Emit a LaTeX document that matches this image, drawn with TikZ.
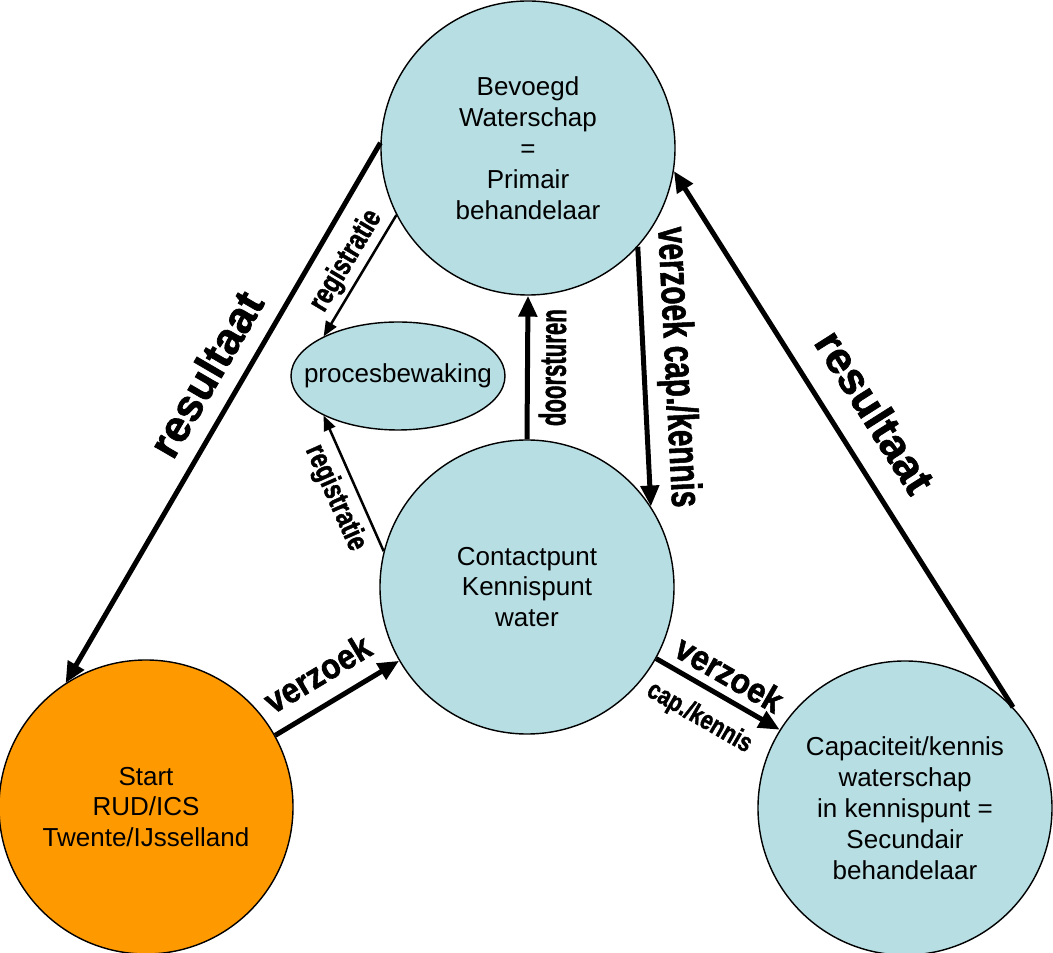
\documentclass[tikz,border=0pt]{standalone}
\usepackage{fontspec}
\setmainfont{Liberation Sans}
\newfontfamily\labfont[FakeBold=1.6]{Liberation Sans Bold}
\usetikzlibrary{arrows.meta,shapes.geometric}

\definecolor{lichtblauw}{RGB}{183,222,227}
\definecolor{oranje}{RGB}{255,153,0}
\newcommand{\smal}[2]{\scalebox{#1}[1]{#2}}

\tikzset{
	bol/.style={circle, draw, line width=0.8pt, fill=lichtblauw, minimum size=58.8mm, inner sep=0pt, align=center, font=\fontsize{14.8}{17.6}\selectfont},
	pijl/.style={line width=1mm, -{Triangle[length=4.2mm,width=3.6mm]}},
	dunpijl/.style={line width=0.5mm, -{Triangle[length=3mm,width=2.4mm]}},
	lab/.style={sloped, inner sep=0pt}
}

\begin{document}
\begin{tikzpicture}[x=0.2mm, y=-0.2mm]
			\useasboundingbox (0,0) rectangle (1053,953);
			%%
			\node[bol] (bev) at (528,148) {Bevoegd\\Waterschap\\=\\Primair\\behandelaar};
			\node[bol] (cp) at (527,587) {Contactpunt\\Kennispunt\\water};
			\node[bol, fill=oranje] (start) at (146,807) {Start\\RUD/ICS\\Twente/IJsselland};
			\node[bol] (sec) at (905,808) {Capaciteit/kennis\\waterschap\\in kennispunt =\\Secundair\\behandelaar};
			\node[ellipse, draw, line width=0.8pt, fill=lichtblauw, minimum width=42.8mm, minimum height=21.6mm, font=\fontsize{14.8}{17.6}\selectfont] (proc) at (398,376) {\makebox[0pt]{procesbewaking}};
			%%
			\draw[pijl] (bev.178) -- (start.123)node[lab, pos=0.46, above=3.2mm, font=\labfont\fontsize{25}{26}\selectfont]{resultaat};
			\draw[pijl] (sec.43) -- (bev.-9)node[lab, pos=0.51, above=4.6mm, font=\labfont\fontsize{25}{26}\selectfont]{resultaat};
			%%
			\draw[dunpijl] (bev.207.6) -- (proc.152)node[lab, pos=0.46, above=0.8mm, font=\labfont\fontsize{17}{18}\selectfont]{\smal{0.78}{registratie}};
			\draw[dunpijl] (cp.166.5) -- (proc.208.7)node[lab, pos=0.46, below=1.5mm, font=\labfont\fontsize{17}{18}\selectfont]{\smal{0.78}{registratie}};
			%%
			\draw[pijl] (cp.north) -- (bev.south)node[lab, pos=0.5, below=1.8mm, font=\labfont\fontsize{21}{22}\selectfont]{\smal{0.6}{doorsturen}};
			\draw[pijl] (bev.-42) -- (cp.33)node[lab, pos=0.47, above=2mm, font=\labfont\fontsize{24.5}{26}\selectfont]{\smal{0.69}{verzoek cap./kennis}};
			%%
			\draw[pijl] (start.29.3) -- (cp.210.5)node[lab, pos=0.47, above=3.2mm, font=\labfont\fontsize{20}{21}\selectfont]{\smal{0.9}{verzoek}};
			\draw[pijl] (cp.-29.7) -- (sec.148)node[lab, pos=0.5, above=1.6mm, font=\labfont\fontsize{20}{21}\selectfont]{\smal{0.9}{verzoek}}
				node[lab, pos=0.47, below=3mm, font=\labfont\fontsize{15.2}{16}\selectfont]{\smal{0.8}{cap./kennis}};
		\end{tikzpicture}
\end{document}
